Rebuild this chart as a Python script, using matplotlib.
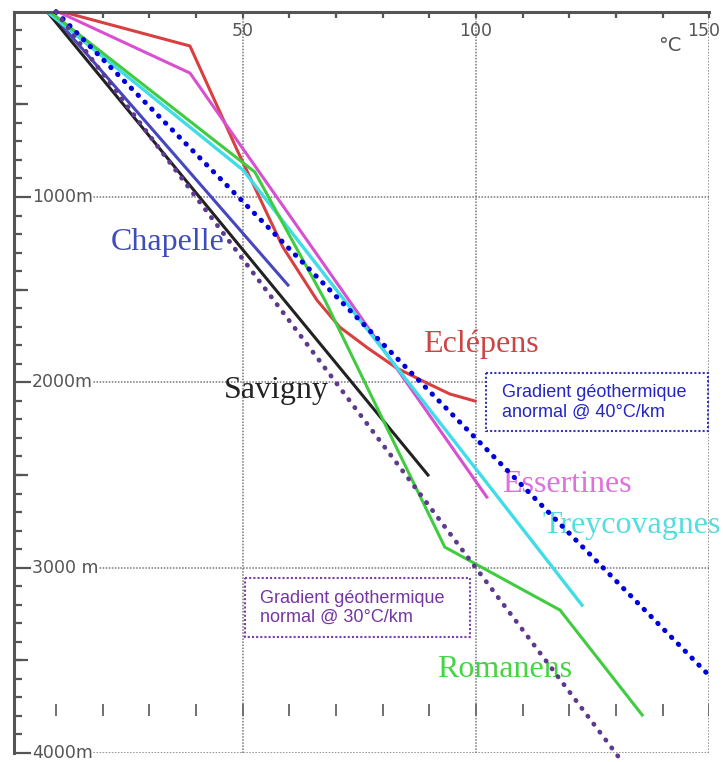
import matplotlib
matplotlib.use("Agg")
import matplotlib.pyplot as plt
from matplotlib.patches import Rectangle

# temperature (degC) vs depth (m) profiles
temp_chapelle = [8.7, 59.7]
depth_chapelle = [0, 1475]

temp_savigny = [8.1, 89.7]
depth_savigny = [0, 2500]

temp_eclepens = [11.3, 38.7, 48.8, 58.6, 65.9, 70.8, 76.8, 83.0, 89.5, 94.4, 99.8]
depth_eclepens = [0, 185, 746, 1270, 1556, 1702, 1815, 1923, 2004, 2063, 2101]

temp_essertines = [10.4, 38.7, 102.3]
depth_essertines = [0, 331, 2619]

temp_treycovagnes = [8.1, 50.1, 122.7]
depth_treycovagnes = [0, 855, 3202]

temp_romanens = [8.7, 52.6, 67.6, 93.3, 118.0, 135.6]
depth_romanens = [0, 865, 1556, 2889, 3229, 3795]

# reference gradients
temp_anormal = [10, 150.5]
depth_anormal = [0, 3596]
temp_normal = [10, 130.5]
depth_normal = [0, 4020]

depth_labels = ["1000m", "2000m", "3000 m", "4000m"]
depth_label_pos = [1000, 2000, 3000, 4000]
temp_label_pos = [50, 100, 150]

GREY = "#555555"

fig = plt.figure(figsize=(7.23, 7.62), dpi=100)
ax = fig.add_axes([14/723, 1-753/762, (709.4-14)/723, (753-11.7)/762])
ax.set_xlim(1, 150)
ax.set_ylim(4000, 0)

for s in ["right", "bottom"]:
    ax.spines[s].set_visible(False)
for s in ["top", "left"]:
    ax.spines[s].set_color(GREY)
    ax.spines[s].set_linewidth(2.2)

ax.xaxis.tick_top()
ax.set_xticks(range(10, 151, 10))
ax.set_xticklabels([])
ax.tick_params(axis="x", direction="in", length=4, width=1.6, color=GREY)
ax.set_yticks(depth_label_pos)
ax.set_yticks(range(100, 4000, 100), minor=True)
ax.set_yticklabels([])
ax.tick_params(axis="y", which="major", direction="in", length=14, width=1.6, color=GREY)
ax.tick_params(axis="y", which="minor", direction="in", length=6, width=1.6, color=GREY)
ax.hlines([500, 1500, 2500, 3500], 1, 4, colors=GREY, lw=1.6, zorder=3)

# dotted grid
for t in temp_label_pos:
    ax.axvline(t, color="#777777", lw=1.1, ls=(0, (1, 1)), zorder=0.5)
for d in depth_label_pos:
    ax.axhline(d, color="#777777", lw=1.1, ls=(0, (1, 1)), zorder=0.5)

# row of small scale ticks near the bottom
ax.vlines(range(10, 151, 10), 3735, 3800, colors="#707070", lw=1.4, zorder=1)

for t in temp_label_pos[:2]:
    ax.text(t, 104, str(t), ha="center", va="center", fontsize=12.5, color=GREY)
ax.text(152.3, 104, "150", ha="right", va="center", fontsize=12.5, color=GREY,
        clip_on=False)
ax.text(141.5, 180, "°C", ha="center", va="center", fontsize=14, color=GREY)
for d, lab in zip(depth_label_pos, depth_labels):
    ax.text(4.8, d, lab, ha="left", va="center", fontsize=12.5, color=GREY,
            bbox=dict(fc="white", ec="none", pad=0.5), zorder=3)

# profiles
ax.plot(temp_chapelle, depth_chapelle, color="#4646c0", lw=2.2, zorder=2)
ax.plot(temp_savigny, depth_savigny, color="#222222", lw=2.2, zorder=2)
ax.plot(temp_eclepens, depth_eclepens, color="#d84040", lw=2.2, zorder=2)
ax.plot(temp_essertines, depth_essertines, color="#d850d0", lw=2.2, zorder=2)
ax.plot(temp_treycovagnes, depth_treycovagnes, color="#40dde8", lw=2.4, zorder=2)
ax.plot(temp_romanens, depth_romanens, color="#40cc40", lw=2.2, zorder=2)

ax.plot(temp_anormal, depth_anormal, color="#0000dd", lw=3.6,
        ls=(0, (0.1, 1.85)), dash_capstyle="round", zorder=3, clip_on=False)
ax.plot(temp_normal, depth_normal, color="#5e3a8e", lw=3.4,
        ls=(0, (0.1, 2.0)), dash_capstyle="round", zorder=3, clip_on=False)

# site names
serif = "Liberation Serif"
ax.text(21.8, 1286, "Chapelle", color="#3f4cbc", fontsize=23, family=serif, zorder=1.5)
ax.text(46.0, 2085, "Savigny", color="#222222", fontsize=23, family=serif, zorder=1.5)
ax.text(88.6, 1836, "Eclépens", color="#cc4444", fontsize=23, family=serif, zorder=1.5)
ax.text(105.5, 2592, "Essertines", color="#e070dc", fontsize=23, family=serif, zorder=1.5)
ax.text(114.3, 2813, "Treycovagnes", color="#55dcdc", fontsize=23, family=serif, zorder=1.5,
        clip_on=False)
ax.text(91.6, 3590, "Romanens", color="#44d444", fontsize=23, family=serif, zorder=1.5)

# gradient boxes
ax.add_patch(Rectangle((102.1, 1950), 47.6, 313, fc="white", ec="#3535b5",
                       lw=1.5, ls=(0, (1, 1)), zorder=4, clip_on=False))
ax.text(105.5, 2108, "Gradient géothermique\nanormal @ 40°C/km", color="#2424c8",
        fontsize=13, family="Liberation Sans", va="center", ha="left",
        linespacing=1.15, zorder=5)

ax.add_patch(Rectangle((50.5, 3056), 48.2, 318, fc="white", ec="#7a3fa8",
                       lw=1.5, ls=(0, (1, 1)), zorder=4))
ax.text(53.7, 3215, "Gradient géothermique\nnormal @ 30°C/km", color="#7535a5",
        fontsize=13, family="Liberation Sans", va="center", ha="left",
        linespacing=1.15, zorder=5)

fig.savefig("out.png", dpi=100, facecolor="white")
